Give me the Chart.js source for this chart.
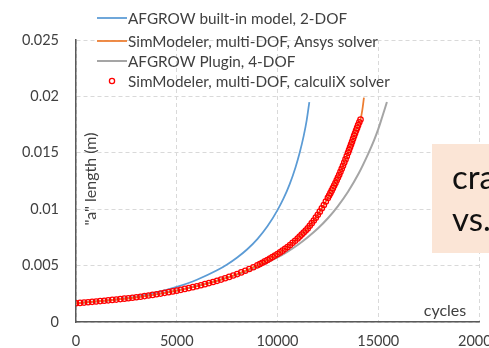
<!DOCTYPE html>
<html>
<head>
<meta charset="utf-8">
<script src="https://cdn.jsdelivr.net/npm/chart.js@4"></script>
<style>
  html, body { margin: 0; padding: 0; overflow: hidden; background: #ffffff; }
  #wrap { width: 520px; height: 348px; }
</style>
</head>
<body>
<div id="wrap"><canvas id="c" width="520" height="348"></canvas></div>
<script>
// Crack length "a" (m) against load cycles for four crack-growth solutions.

const xTickLabels = ['0', '5000', '10000', '15000', '20000'];
const yTickLabels = ['0', '0.005', '0.01', '0.015', '0.02', '0.025'];

const seriesNames = [
  'AFGROW built-in model, 2-DOF',
  'SimModeler, multi-DOF, Ansys solver',
  'AFGROW Plugin, 4-DOF',
  'SimModeler, multi-DOF, calculiX solver'
];

// AFGROW built-in model, 2-DOF
const afgrowCycles = [0, 1000, 2000, 3000, 4000, 5000, 6000, 7000, 7500, 8000, 8500, 9000, 9500, 10000,
  10300, 10600, 10900, 11100, 11300, 11450, 11580];
const afgrowA = [0.00166, 0.00182, 0.00201, 0.00226, 0.00262, 0.00312, 0.00375, 0.00458, 0.0051, 0.00572,
  0.00645, 0.00735, 0.00848, 0.00992, 0.01095, 0.0122, 0.01375, 0.015, 0.0165, 0.0179, 0.0195];

// SimModeler, multi-DOF, Ansys solver
const ansysCycles = [0, 1000, 2000, 3000, 4000, 5000, 6000, 7000, 8000, 9000, 10000, 10500, 11000, 11500,
  12000, 12500, 13000, 13500, 13800, 14000, 14120, 14210, 14290];
const ansysA = [0.00166, 0.00182, 0.00199, 0.00219, 0.00246, 0.00278, 0.00317, 0.00365, 0.00425, 0.00502,
  0.00602, 0.00665, 0.0074, 0.0083, 0.0095, 0.011, 0.0128, 0.015, 0.0165, 0.01745, 0.01795, 0.0188, 0.0199];

// AFGROW Plugin, 4-DOF
const pluginCycles = [0, 1000, 2000, 3000, 4000, 5000, 6000, 7000, 8000, 9000, 10000, 10500, 11000, 11500,
  12000, 12500, 13000, 13500, 14000, 14500, 14800, 15000, 15200, 15430];
const pluginA = [0.00166, 0.00181, 0.002, 0.0022, 0.00246, 0.00279, 0.00319, 0.00366, 0.0042, 0.00486,
  0.00572, 0.00624, 0.00683, 0.00752, 0.00829, 0.0092, 0.01028, 0.01155, 0.01307, 0.01491, 0.01615,
  0.0171, 0.0182, 0.0195];

// SimModeler, multi-DOF, calculiX solver (one marker per solver step)
const calculixCycles = [
  0, 200, 400, 600, 800, 1000, 1200, 1400, 1600, 1800, 2000, 2200, 2400, 2600, 2800, 3000,
  3200, 3400, 3600, 3800, 4000, 4200, 4400, 4600, 4800, 5000, 5200, 5400, 5600, 5800, 6000,
  6200, 6400, 6600, 6800, 7000, 7200, 7400, 7600, 7800, 8000, 8200, 8400, 8600, 8800, 9000,
  9125, 9250, 9375, 9500, 9625, 9750, 9875, 10000, 10125, 10250, 10375, 10500, 10625, 10750, 10875, 11000,
  11100, 11200, 11300, 11400, 11500, 11600, 11700, 11800, 11900, 12000, 12100, 12200, 12300, 12400, 12500,
  12563, 12625, 12688, 12750, 12813, 12875, 12938, 13000, 13063, 13125, 13188, 13250, 13313, 13375, 13438, 13500,
  13550, 13600, 13650, 13700, 13750, 13800, 13850, 13900, 13950, 14000, 14060, 14120];
const calculixA = [
  0.00166, 0.001691, 0.001722, 0.001754, 0.001787, 0.00182, 0.001853, 0.001886, 0.00192, 0.001955, 0.00199,
  0.002028, 0.002068, 0.002108, 0.002148, 0.00219, 0.002242, 0.002294, 0.002348, 0.002403, 0.00246,
  0.002521, 0.002583, 0.002647, 0.002713, 0.00278, 0.002854, 0.00293, 0.003008, 0.003088, 0.00317,
  0.003261, 0.003354, 0.00345, 0.003548, 0.00365, 0.003763, 0.003879, 0.003999, 0.004123, 0.00425,
  0.004394, 0.004543, 0.004696, 0.004855, 0.00502,
  0.005135, 0.005253, 0.005374, 0.005497, 0.005624, 0.005753, 0.005885, 0.00602, 0.006172, 0.006327, 0.006487,
  0.00665, 0.00683, 0.007015, 0.007205, 0.0074,
  0.007572, 0.007748, 0.007928, 0.008112, 0.0083, 0.008527, 0.00876, 0.009, 0.009247, 0.0095, 0.009783,
  0.010074, 0.010374, 0.010682, 0.011,
  0.01121, 0.011424, 0.011642, 0.011865, 0.012092, 0.012323, 0.012559, 0.0128, 0.013056, 0.013318, 0.013584,
  0.013856, 0.014134, 0.014417, 0.014705, 0.015,
  0.01524, 0.015484, 0.015732, 0.015983, 0.016239, 0.0165, 0.016733, 0.016969, 0.017208, 0.01745, 0.0177, 0.01795];

const toPoints = (xs, ys) => xs.map((x, i) => ({ x: x, y: ys[i] }));

const TEXT = '#404040';
const FONT = 'Lato, "Open Sans", sans-serif';

// Legend, axis titles and the callout box are painted on top of the plot.
const overlayPlugin = {
  id: 'overlay',
  afterDraw(chart) {
    const ctx = chart.ctx;
    const sets = chart.data.datasets;
    ctx.save();
    ctx.font = '15.3px ' + FONT;
    ctx.textBaseline = 'middle';
    ctx.textAlign = 'left';
    const rows = [18, 41, 61, 81];
    sets.forEach((ds, i) => {
      const y = rows[i];
      if (ds.showLine === false) {
        ctx.beginPath();
        ctx.arc(112, y, 2.6, 0, Math.PI * 2);
        ctx.strokeStyle = ds.pointBorderColor;
        ctx.lineWidth = 1.3;
        ctx.stroke();
      } else {
        ctx.beginPath();
        ctx.moveTo(97, y);
        ctx.lineTo(127, y);
        ctx.strokeStyle = ds.borderColor;
        ctx.lineWidth = ds.borderWidth;
        ctx.stroke();
      }
      ctx.fillStyle = TEXT;
      ctx.fillText(ds.label, 128, y + 1);
    });

    // axis titles
    ctx.font = '16px ' + FONT;
    ctx.fillStyle = TEXT;
    ctx.textAlign = 'center';
    ctx.fillText('cycles', 445, 311);
    ctx.save();
    ctx.translate(91, 179);
    ctx.rotate(-Math.PI / 2);
    ctx.fillText('"a" length (m)', 0, 0);
    ctx.restore();

    // callout box
    ctx.fillStyle = '#fbe5d6';
    ctx.fillRect(432, 144, 100, 109);
    ctx.fillStyle = '#111111';
    ctx.textAlign = 'left';
    ctx.textBaseline = 'alphabetic';
    ctx.font = '33px ' + FONT;
    ctx.fillText('cra', 452, 189);
    ctx.fillText('vs.', 452, 231);
    ctx.restore();
  }
};

function build() {
  Chart.defaults.font.family = FONT;
  Chart.defaults.font.size = 14.5;
  Chart.defaults.color = TEXT;

  new Chart(document.getElementById('c'), {
    type: 'line',
    data: {
      datasets: [
        {
          label: seriesNames[0],
          data: toPoints(afgrowCycles, afgrowA),
          borderColor: '#5b9bd5',
          borderWidth: 1.75,
          pointRadius: 0,
          cubicInterpolationMode: 'monotone',
          order: 3
        },
        {
          label: seriesNames[1],
          data: toPoints(ansysCycles, ansysA),
          borderColor: '#ed7d31',
          borderWidth: 1.75,
          pointRadius: 0,
          cubicInterpolationMode: 'monotone',
          order: 1
        },
        {
          label: seriesNames[2],
          data: toPoints(pluginCycles, pluginA),
          borderColor: '#a5a5a5',
          borderWidth: 2,
          pointRadius: 0,
          cubicInterpolationMode: 'monotone',
          order: 2
        },
        {
          label: seriesNames[3],
          data: toPoints(calculixCycles, calculixA),
          showLine: false,
          pointStyle: 'circle',
          pointRadius: 2.7,
          pointBorderWidth: 1.25,
          pointBorderColor: '#ff0000',
          pointBackgroundColor: 'rgba(0,0,0,0)',
          borderColor: '#ff0000',
          order: 0
        }
      ]
    },
    options: {
      responsive: false,
      animation: false,
      events: [],
      layout: { padding: { top: 40, right: 41, bottom: 0, left: 0 } },
      plugins: { legend: { display: false }, tooltip: { enabled: false } },
      scales: {
        x: {
          type: 'linear',
          min: 0,
          max: 20000,
          afterFit(scale) { scale.height = 26; },
          ticks: {
            stepSize: 5000,
            padding: 11,
            maxRotation: 0,
            autoSkip: false,
            callback: (v, i) => xTickLabels[i]
          },
          grid: { color: '#d9d9d9', lineWidth: 1, drawTicks: false },
          border: { color: '#595959', width: 1.5, dash: [4, 3] }
        },
        y: {
          type: 'linear',
          min: 0,
          max: 0.025,
          afterFit(scale) { scale.width = 76; },
          ticks: {
            stepSize: 0.005,
            padding: 17,
            autoSkip: false,
            callback: (v, i) => yTickLabels[i]
          },
          grid: { color: '#d9d9d9', lineWidth: 1, drawTicks: false },
          border: { color: '#595959', width: 1.5, dash: [4, 3] }
        }
      }
    },
    plugins: [overlayPlugin]
  });
}

if (document.fonts && document.fonts.load) {
  Promise.all([document.fonts.load('16px Lato'), document.fonts.load('33px Lato')])
    .then(build, build);
} else {
  build();
}
</script>
</body>
</html>
